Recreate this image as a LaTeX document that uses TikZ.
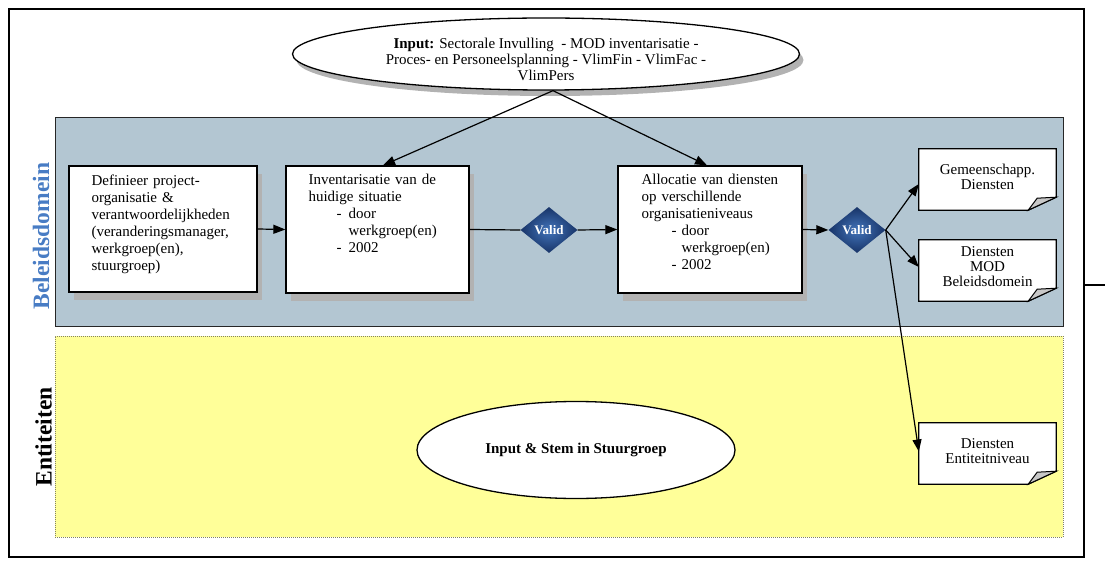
\documentclass[tikz,border=0pt]{standalone}
\usepackage{fontspec}
\setmainfont{Liberation Serif}
\usetikzlibrary{shapes.geometric,arrows.meta,shadows,calc}
\definecolor{panelblue}{RGB}{179,198,210}
\definecolor{panelyellow}{RGB}{255,255,153}
\definecolor{shadowgray}{RGB}{178,178,178}
\definecolor{labelblue}{RGB}{72,124,196}
\definecolor{diamin}{RGB}{66,116,186}
\definecolor{diamout}{RGB}{24,52,104}
\definecolor{foldgray}{RGB}{200,200,200}
\definecolor{dotborder}{RGB}{130,130,100}
\begin{document}
\begin{tikzpicture}[x=1pt,y=-1pt,
  panel/.style={rectangle, inner sep=0pt, minimum width=1008pt},
  procbox/.style={rectangle, draw=black, line width=1.3pt, fill=white, inner sep=0pt,
    drop shadow={shadow xshift=5pt, shadow yshift=-8pt, fill=shadowgray, opacity=1}},
  txt/.style={font=\fontsize{15}{17}\selectfont, inner sep=0pt, align=left, anchor=north west},
  notebox/.style={rectangle, inner sep=0pt, minimum width=137pt, minimum height=61pt},
  notetxt/.style={font=\fontsize{15}{15}\selectfont, inner sep=0pt, align=center},
  valid/.style={diamond, minimum width=57pt, minimum height=46pt, inner sep=0pt,
    shading=radial, inner color=diamin, outer color=diamout, text=white,
    font=\bfseries\fontsize{13}{14}\selectfont},
  arr/.style={-{Triangle[length=12pt,width=9pt]}, line width=1.2pt},
  conn/.style={line width=1.2pt},
  sidelabel/.style={rotate=90, inner sep=0pt, font=\bfseries\fontsize{23.5}{28}\selectfont}
]
\useasboundingbox (0,0) rectangle (1105,561);

% outer frame and stub
\node[rectangle, draw=black, line width=1.5pt, minimum width=1075pt, minimum height=548pt, inner sep=0pt] (frame) at (546.5,283) {};
\coordinate (stubend) at (1105,285);
\draw[line width=2.6pt] (frame.east |- stubend) -- (stubend);

% panels
\node[panel, draw=black!85, line width=1pt, fill=panelblue, minimum height=208pt] (bpanel) at (559,222) {};
\node[panel, draw=dotborder, densely dotted, line width=1pt, fill=panelyellow, minimum height=201pt] (epanel) at (559,436.5) {};

% side labels
\node[sidelabel, text=labelblue] (lblb) at (41,236) {Beleidsdomein};
\node[sidelabel, text=black] (lble) at (43.5,437) {Entiteiten};

% top input ellipse
\node[ellipse, draw=black, line width=1.3pt, fill=white, minimum width=507pt, minimum height=72pt, inner sep=0pt,
  drop shadow={shadow xshift=4pt, shadow yshift=-6pt, fill=shadowgray, opacity=1}] (input) at (546,54) {};
\node[font=\fontsize{15}{16}\selectfont, inner sep=0pt, align=center] (inputt) at (546,59)
  {\textbf{Input:} Sectorale Invulling\ \ - MOD inventarisatie -\\
   Proces- en Personeelsplanning - VlimFin - VlimFac -\\
   VlimPers};

% process boxes
\node[procbox, minimum width=188pt, minimum height=126pt] (box1) at (163,229) {};
\node[txt, text width=162pt] (box1t) at ($(box1.north west)+(23,9)$)
  {Definieer project-\\organisatie \&\\verantwoordelijkheden\\(veranderingsmanager,\\werkgroep(en),\\stuurgroep)};

\node[procbox, minimum width=183pt, minimum height=127pt] (box2) at (377.5,229.5) {};
\node[txt, text width=155pt] (box2t) at ($(box2.north west)+(23,9)$)
  {Inventarisatie van de\\huidige situatie\\
   \hspace*{28pt}\makebox[12pt][l]{-}door\\
   \hspace*{40pt}werkgroep(en)\\
   \hspace*{28pt}\makebox[12pt][l]{-}2002};

\node[procbox, minimum width=184pt, minimum height=127pt] (box3) at (710,229.5) {};
\node[txt, text width=155pt] (box3t) at ($(box3.north west)+(24,9)$)
  {Allocatie van diensten\\op verschillende\\organisatieniveaus\\
   \hspace*{30pt}\makebox[10pt][l]{-}door\\
   \hspace*{40pt}werkgroep(en)\\
   \hspace*{30pt}\makebox[10pt][l]{-}2002};

% validation diamonds
\node[valid] (d1) at (549,230) {Valid};
\node[valid] (d2) at (857,230) {Valid};

% note boxes with folded corner
\foreach \n/\x/\y in {g/987.5/179.5, m/987.5/270.5, e/987.5/453.5}{
  \node[notebox] (\n) at (\x,\y) {};
  \draw[line width=1.3pt, fill=white] (\n.north west) -- (\n.north east) -- ($(\n.south east)+(0,-13)$)
     -- ($(\n.south east)+(-28,0)$) -- (\n.south west) -- cycle;
  \draw[line width=1pt, fill=foldgray] ($(\n.south east)+(-28,0)$) -- ($(\n.south east)+(0,-13)$)
     -- ($(\n.south east)+(-19,-12)$) -- cycle;
}
\node[notetxt] (gt) at (987.5,177) {Gemeenschapp.\\Diensten};
\node[notetxt] (mt) at (987.5,267) {Diensten\\MOD\\Beleidsdomein};
\node[notetxt] (et) at (987.5,451) {Diensten\\Entiteitniveau};

% bottom ellipse
\node[ellipse, draw=black, line width=1.3pt, fill=white, minimum width=318pt, minimum height=97pt, inner sep=0pt,
  font=\bfseries\fontsize{15}{17}\selectfont] (stem) at (576,450) {Input \& Stem in Stuurgroep};

% connectors
\coordinate (apex) at ($(input.south)+(7,0)$);
\draw[arr] (apex) -- ($(box2.north)+(5.5,0)$);
\draw[arr] (apex) -- ($(box3.north)+(-3,0)$);
\draw[arr] (box1.east) -- (box2.west);
\draw[conn] (box2.east) -- (d1.west);
\draw[arr] (d1.east) -- (box3.west);
\draw[arr] (box3.east) -- (d2.west);
\draw[arr] (d2.east) -- ($(g.west)+(0,4.5)$);
\draw[arr] (d2.east) -- ($(m.west)+(0,-3.5)$);
\draw[arr] (d2.east) -- ($(e.west)+(0,-2)$);
\end{tikzpicture}
\end{document}
